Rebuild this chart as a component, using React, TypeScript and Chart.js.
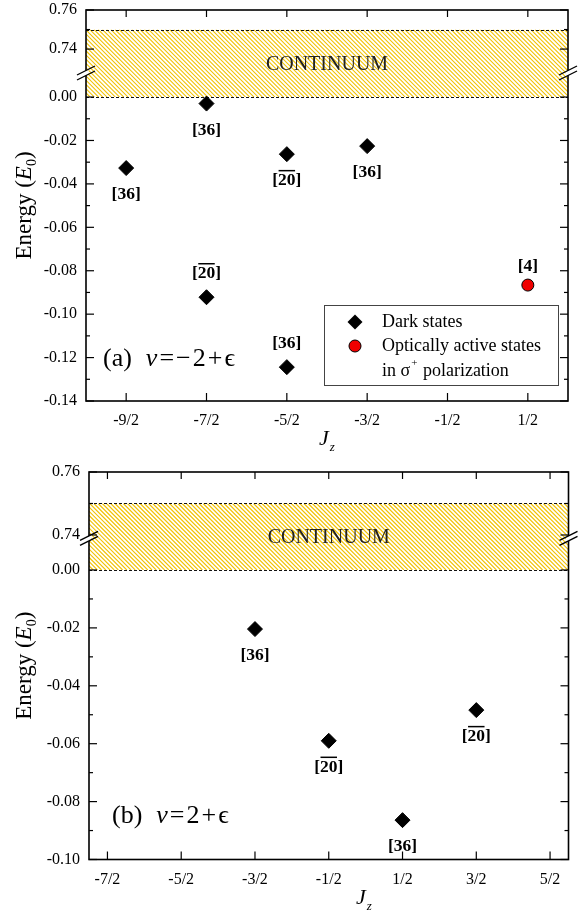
import React, { useEffect, useRef } from 'react';
import { Chart, registerables } from 'chart.js';

Chart.register(...registerables);

const SERIF = '"Liberation Serif", "Times New Roman", "DejaVu Serif", serif';

// ---------- shared ----------
const BREAK_LOW = 0.0;
const BREAK_HIGH = 0.74;
const AXIS_TOP = 0.76;
const continuumLow = 0.0;
const continuumHigh = 0.75;

// ---------- Panel (a): nu = -2 + eps ----------
const jzTicksA = [-4.5, -3.5, -2.5, -1.5, -0.5, 0.5];
const jzLabelsA = ['-9/2', '-7/2', '-5/2', '-3/2', '-1/2', '1/2'];
const energyTicksA = [0.76, 0.74, 0.0, -0.02, -0.04, -0.06, -0.08, -0.1, -0.12, -0.14];
const energyLabelsA = ['0.76', '0.74', '0.00', '-0.02', '-0.04', '-0.06', '-0.08', '-0.10', '-0.12', '-0.14'];
const energyMinorA = [0.75, -0.01, -0.03, -0.05, -0.07, -0.09, -0.11, -0.13];
const darkJzA = [-4.5, -3.5, -3.5, -2.5, -2.5, -1.5];
const darkEnergyA = [-0.0327, -0.003, -0.0922, -0.0263, -0.1244, -0.0226];
const darkDegA = ['36', '36', '20', '20', '36', '36'];
const darkBarA = [false, false, true, true, false, false];
const darkSideA = ['below', 'below', 'above', 'below', 'above', 'below'];
const activeJzA = [0.5];
const activeEnergyA = [-0.0866];
const activeDegA = ['4'];
const activeBarA = [false];
const activeSideA = ['above'];

// ---------- Panel (b): nu = 2 + eps ----------
const jzTicksB = [-3.5, -2.5, -1.5, -0.5, 0.5, 1.5, 2.5];
const jzLabelsB = ['-7/2', '-5/2', '-3/2', '-1/2', '1/2', '3/2', '5/2'];
const energyTicksB = [0.76, 0.74, 0.0, -0.02, -0.04, -0.06, -0.08, -0.1];
const energyLabelsB = ['0.76', '0.74', '0.00', '-0.02', '-0.04', '-0.06', '-0.08', '-0.10'];
const energyMinorB = [0.75, -0.01, -0.03, -0.05, -0.07, -0.09];
const darkJzB = [-1.5, -0.5, 0.5, 1.5];
const darkEnergyB = [-0.0204, -0.059, -0.0864, -0.0484];
const darkDegB = ['36', '20', '36', '20'];
const darkBarB = [false, true, false, true];
const darkSideB = ['below', 'below', 'below', 'below'];

type Marks = { jz: number[]; e: number[]; deg: string[]; bar: boolean[]; side: string[] };

type Panel = {
  W: number;
  H: number;
  plot: { left: number; right: number; top: number; bottom: number };
  xMin: number;
  xMax: number;
  eMin: number;
  gap: number;
  up: number;
  breakD: number;
  jzTicks: number[];
  jzLabels: string[];
  eTicks: number[];
  eLabels: string[];
  eMinor: number[];
  dark: Marks;
  active: Marks | null;
  tag: string;
  nu: string[];
  tagX: number;
  tagDy: number;
  jTitleX: number;
  legend: boolean;
};

const panelA: Panel = {
  W: 578,
  H: 458,
  plot: { left: 86, right: 568, top: 10, bottom: 401 },
  xMin: -5,
  xMax: 1,
  eMin: -0.14,
  gap: 0.0221,
  up: 0.9,
  breakD: 0.0111,
  jzTicks: jzTicksA,
  jzLabels: jzLabelsA,
  eTicks: energyTicksA,
  eLabels: energyLabelsA,
  eMinor: energyMinorA,
  dark: { jz: darkJzA, e: darkEnergyA, deg: darkDegA, bar: darkBarA, side: darkSideA },
  active: { jz: activeJzA, e: activeEnergyA, deg: activeDegA, bar: activeBarA, side: activeSideA },
  tag: '(a)',
  nu: ['=', '\u2212', '2', '+', '\u03F5'],
  tagX: 103,
  tagDy: -44,
  jTitleX: 327,
  legend: true,
};

const panelB: Panel = {
  W: 578,
  H: 458,
  plot: { left: 89, right: 568.5, top: 14, bottom: 401.5 },
  xMin: -3.75,
  xMax: 2.75,
  eMin: -0.1,
  gap: 0.01209,
  up: 1.088,
  breakD: 0.0109,
  jzTicks: jzTicksB,
  jzLabels: jzLabelsB,
  eTicks: energyTicksB,
  eLabels: energyLabelsB,
  eMinor: energyMinorB,
  dark: { jz: darkJzB, e: darkEnergyB, deg: darkDegB, bar: darkBarB, side: darkSideB },
  active: null,
  tag: '(b)',
  nu: ['=', '2', '+', '\u03F5'],
  tagX: 112,
  tagDy: -46,
  jTitleX: 364,
  legend: false,
};

function makeMap(p: Panel) {
  return (v: number) =>
    v <= BREAK_LOW ? v : v >= BREAK_HIGH ? p.gap + (v - BREAK_HIGH) * p.up : (v / BREAK_HIGH) * p.gap;
}

type Piece = { t: string; font: string; dy?: number; gap?: number };

function drawPieces(ctx: CanvasRenderingContext2D, pieces: Piece[], x: number, y: number, align: 'left' | 'center') {
  let total = 0;
  for (const pc of pieces) {
    ctx.font = pc.font;
    total += ctx.measureText(pc.t).width + (pc.gap || 0);
  }
  let cx = align === 'center' ? x - total / 2 : x;
  ctx.textAlign = 'left';
  for (const pc of pieces) {
    ctx.font = pc.font;
    ctx.fillText(pc.t, cx, y + (pc.dy || 0));
    cx += ctx.measureText(pc.t).width + (pc.gap || 0);
  }
}

function diamond(ctx: CanvasRenderingContext2D, x: number, y: number, r: number) {
  ctx.beginPath();
  ctx.moveTo(x - r, y);
  ctx.lineTo(x, y - r);
  ctx.lineTo(x + r, y);
  ctx.lineTo(x, y + r);
  ctx.closePath();
  ctx.fillStyle = '#000';
  ctx.fill();
}

function buildChart(canvas: HTMLCanvasElement, p: Panel) {
  const map = makeMap(p);
  const toPts = (m: Marks) => m.jz.map((x, i) => ({ x, y: map(m.e[i]) }));

  const decor = {
    id: 'decor',
    beforeDatasetsDraw(chart: any) {
      const ctx: CanvasRenderingContext2D = chart.ctx;
      const xs = chart.scales.x;
      const ys = chart.scales.y;
      const { left, right } = chart.chartArea;
      const yTop = ys.getPixelForValue(map(continuumHigh));
      const yBot = ys.getPixelForValue(map(continuumLow));
      ctx.save();
      ctx.beginPath();
      ctx.rect(left, yTop, right - left, yBot - yTop);
      ctx.clip();
      ctx.strokeStyle = '#f2c200';
      ctx.lineWidth = 1.1;
      const h = yBot - yTop;
      for (let x = left - h; x < right + 5; x += 4.2) {
        ctx.beginPath();
        ctx.moveTo(x, yTop);
        ctx.lineTo(x + h, yBot);
        ctx.stroke();
      }
      ctx.restore();
      ctx.save();
      ctx.setLineDash([3, 2]);
      ctx.strokeStyle = '#111';
      ctx.lineWidth = 1;
      for (const yy of [yTop, yBot]) {
        ctx.beginPath();
        ctx.moveTo(left, Math.round(yy) + 0.5);
        ctx.lineTo(right, Math.round(yy) + 0.5);
        ctx.stroke();
      }
      ctx.restore();
      ctx.save();
      ctx.fillStyle = '#222';
      ctx.font = `20px ${SERIF}`;
      ctx.textAlign = 'center';
      ctx.textBaseline = 'middle';
      ctx.fillText('CONTINUUM', (xs.left + xs.right) / 2, (yTop + yBot) / 2 + 1);
      ctx.restore();
    },
    afterDatasetsDraw(chart: any) {
      const ctx: CanvasRenderingContext2D = chart.ctx;
      const xs = chart.scales.x;
      const ys = chart.scales.y;
      const { left, right, top, bottom } = chart.chartArea;
      ctx.save();

      // point labels
      const drawLabels = (m: Marks, above: number, below: number) => {
        m.jz.forEach((jz, i) => {
          const px = xs.getPixelForValue(jz);
          const py = ys.getPixelForValue(map(m.e[i]));
          const cy = py + (m.side[i] === 'above' ? above : below);
          const base = cy + 6;
          ctx.font = `bold 17.5px ${SERIF}`;
          ctx.fillStyle = '#000';
          const txt = `[${m.deg[i]}]`;
          const w = ctx.measureText(txt).width;
          ctx.textAlign = 'left';
          ctx.textBaseline = 'alphabetic';
          ctx.fillText(txt, px - w / 2, base);
          if (m.bar[i]) {
            const wb = ctx.measureText('[').width;
            const wn = ctx.measureText(m.deg[i]).width;
            ctx.strokeStyle = '#000';
            ctx.lineWidth = 1.5;
            ctx.beginPath();
            ctx.moveTo(px - w / 2 + wb + 0.5, base - 14.5);
            ctx.lineTo(px - w / 2 + wb + wn - 0.5, base - 14.5);
            ctx.stroke();
          }
        });
      };
      drawLabels(p.dark, -25, 25);
      if (p.active) drawLabels(p.active, -20, 22);

      // frame
      ctx.strokeStyle = '#000';
      ctx.lineWidth = 1.6;
      ctx.strokeRect(left, top, right - left, bottom - top);

      // ticks
      ctx.lineWidth = 1.2;
      const tick = (x1: number, y1: number, x2: number, y2: number) => {
        ctx.beginPath();
        ctx.moveTo(x1, y1);
        ctx.lineTo(x2, y2);
        ctx.stroke();
      };
      for (const v of p.eTicks) {
        const y = ys.getPixelForValue(map(v));
        tick(left, y, left + 8, y);
        tick(right, y, right - 8, y);
      }
      for (const v of p.eMinor) {
        const y = ys.getPixelForValue(map(v));
        tick(left, y, left + 4, y);
        tick(right, y, right - 4, y);
      }
      for (const v of p.jzTicks) {
        const x = xs.getPixelForValue(v);
        tick(x, bottom, x, bottom - 8);
        tick(x, top, x, top + 7);
      }

      // axis breaks
      const yb = ys.getPixelForValue(p.breakD);
      for (const ax of [left, right]) {
        ctx.save();
        ctx.beginPath();
        ctx.rect(ax - 2.5, yb - 12, 5, 24);
        ctx.clip();
        ctx.beginPath();
        ctx.moveTo(ax - 9, yb + 4.5 - 2.5);
        ctx.lineTo(ax + 9, yb - 4.5 - 2.5);
        ctx.lineTo(ax + 9, yb - 4.5 + 2.5);
        ctx.lineTo(ax - 9, yb + 4.5 + 2.5);
        ctx.closePath();
        ctx.fillStyle = '#fff';
        ctx.fill();
        ctx.restore();
        ctx.lineWidth = 1.3;
        tick(ax - 9, yb + 4.5 - 2.5, ax + 9, yb - 4.5 - 2.5);
        tick(ax - 9, yb + 4.5 + 2.5, ax + 9, yb - 4.5 + 2.5);
      }

      // tick labels
      ctx.fillStyle = '#000';
      ctx.font = `16px ${SERIF}`;
      ctx.textBaseline = 'middle';
      ctx.textAlign = 'right';
      p.eTicks.forEach((v, i) => {
        ctx.fillText(p.eLabels[i], left - 9, ys.getPixelForValue(map(v)));
      });
      ctx.textAlign = 'center';
      p.jzTicks.forEach((v, i) => {
        ctx.fillText(p.jzLabels[i], xs.getPixelForValue(v), bottom + 20);
      });

      // axis titles
      ctx.textBaseline = 'alphabetic';
      drawPieces(
        ctx,
        [
          { t: 'J', font: `italic 22px ${SERIF}`, gap: 1 },
          { t: 'z', font: `italic 13px ${SERIF}`, dy: 6 },
        ],
        p.jTitleX,
        bottom + 44,
        'center'
      );
      ctx.save();
      ctx.translate(31, (top + bottom) / 2);
      ctx.rotate(-Math.PI / 2);
      drawPieces(
        ctx,
        [
          { t: 'Energy (', font: `23px ${SERIF}` },
          { t: 'E', font: `italic 23px ${SERIF}` },
          { t: '0', font: `14px ${SERIF}`, dy: 5 },
          { t: ')', font: `23px ${SERIF}` },
        ],
        0,
        0,
        'center'
      );
      ctx.restore();

      // panel tag
      const tagY = bottom + p.tagDy + 9;
      const f = `26px ${SERIF}`;
      const pcs: Piece[] = [
        { t: p.tag, font: f, gap: 14 },
        { t: '\u03BD', font: `italic 26px ${SERIF}`, gap: 2 },
      ];
      p.nu.forEach((t, i) => pcs.push({ t, font: f, gap: i === p.nu.length - 1 ? 0 : 2 }));
      drawPieces(ctx, pcs, p.tagX, tagY, 'left');

      // legend
      if (p.legend) {
        const bw = 234;
        const bh = 80;
        const x0 = right - 10 - bw;
        const y0 = bottom - 16 - bh;
        ctx.fillStyle = '#fff';
        ctx.fillRect(x0, y0, bw, bh);
        ctx.strokeStyle = '#444';
        ctx.lineWidth = 1;
        ctx.strokeRect(Math.round(x0) + 0.5, Math.round(y0) + 0.5, bw, bh);
        const mx = x0 + 31;
        diamond(ctx, mx, y0 + 17, 7.5);
        ctx.beginPath();
        ctx.arc(mx, y0 + 41, 6, 0, Math.PI * 2);
        ctx.fillStyle = '#f00000';
        ctx.fill();
        ctx.strokeStyle = '#000';
        ctx.lineWidth = 1;
        ctx.stroke();
        ctx.fillStyle = '#000';
        ctx.textBaseline = 'middle';
        ctx.textAlign = 'left';
        ctx.font = `18px ${SERIF}`;
        const tx = x0 + 58;
        ctx.fillText('Dark states', tx, y0 + 17);
        ctx.fillText('Optically active states', tx, y0 + 41);
        drawPieces(
          ctx,
          [
            { t: 'in \u03C3', font: `18px ${SERIF}`, gap: 1 },
            { t: '+', font: `11px ${SERIF}`, dy: -8, gap: 1 },
            { t: ' polarization', font: `18px ${SERIF}` },
          ],
          tx,
          y0 + 66,
          'left'
        );
      }
      ctx.restore();
    },
  };

  const datasets: any[] = [
    {
      label: 'Dark states',
      data: toPts(p.dark),
      pointStyle: 'rectRot',
      pointRadius: 7.5,
      backgroundColor: '#000',
      borderColor: '#000',
      borderWidth: 1,
      showLine: false,
    },
  ];
  if (p.active) {
    datasets.push({
      label: 'Optically active states in \u03C3+ polarization',
      data: toPts(p.active),
      pointStyle: 'circle',
      pointRadius: 6,
      backgroundColor: '#f00000',
      borderColor: '#000',
      borderWidth: 1,
      showLine: false,
    });
  }

  return new Chart(canvas, {
    type: 'scatter',
    data: { datasets },
    options: {
      animation: false,
      responsive: false,
      devicePixelRatio: 1,
      events: [],
      layout: { padding: { left: 0, top: p.plot.top, right: p.W - p.plot.right, bottom: 0 } },
      plugins: { legend: { display: false }, tooltip: { enabled: false } },
      scales: {
        x: {
          type: 'linear',
          position: 'bottom',
          min: p.xMin,
          max: p.xMax,
          grid: { display: false, drawTicks: false },
          border: { display: false },
          ticks: { display: false },
          afterFit: (s: any) => {
            s.height = p.H - p.plot.bottom;
          },
        },
        y: {
          type: 'linear',
          position: 'left',
          min: map(p.eMin),
          max: map(AXIS_TOP),
          grid: { display: false, drawTicks: false },
          border: { display: false },
          ticks: { display: false },
          afterFit: (s: any) => {
            s.width = p.plot.left;
          },
        },
      },
    } as any,
    plugins: [decor],
  });
}

export default function App() {
  const refA = useRef<HTMLCanvasElement>(null);
  const refB = useRef<HTMLCanvasElement>(null);
  useEffect(() => {
    const ca = buildChart(refA.current!, panelA);
    const cb = buildChart(refB.current!, panelB);
    return () => {
      ca.destroy();
      cb.destroy();
    };
  }, []);
  return (
    <div style={{ position: 'absolute', left: 0, top: 0, width: 578, height: 916, background: '#fff' }}>
      <canvas ref={refA} width={578} height={458} style={{ position: 'absolute', left: 0, top: 0, width: 578, height: 458 }} />
      <canvas ref={refB} width={578} height={458} style={{ position: 'absolute', left: 0, top: 458, width: 578, height: 458 }} />
    </div>
  );
}
